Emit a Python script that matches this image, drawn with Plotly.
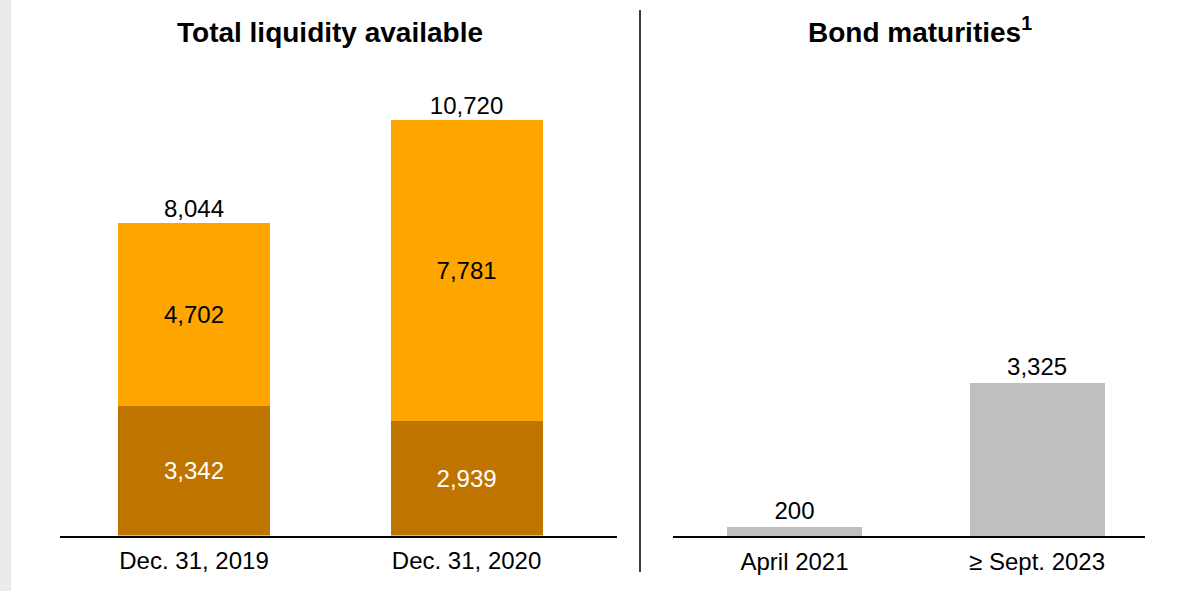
import plotly.graph_objects as go

W, H = 1178, 591

# ---- data ----
liq_categories = ["Dec. 31, 2019", "Dec. 31, 2020"]
liq_bottom = [3342, 2939]
liq_top = [4702, 7781]
liq_total = [8044, 10720]

bond_categories = ["April 2021", "≥ Sept. 2023"]
bond_values = [200, 3325]

titles = ["Total liquidity available", "Bond maturities<sup>1</sup>"]

FONT = "Liberation Sans, Arial, sans-serif"
ORANGE = "#FFA500"
DARK = "#C07400"
GRAY = "#BFBFBF"
FS = 24

def px(x):
    return x / W

def py(y):
    return (H - y) / H

fig = go.Figure()

fmt = lambda v: f"{v:,}"

fig.add_trace(go.Bar(
    x=liq_categories, y=liq_bottom, marker=dict(color=DARK, line=dict(width=0)),
    text=[fmt(v) for v in liq_bottom], textposition="inside", insidetextanchor="middle",
    textangle=0, textfont=dict(color="white", size=FS, family=FONT),
    width=0.558, xaxis="x", yaxis="y", showlegend=False, hoverinfo="skip"))
fig.add_trace(go.Bar(
    x=liq_categories, y=liq_top, marker=dict(color=ORANGE, line=dict(width=0)),
    text=[fmt(v) for v in liq_top], textposition="inside", insidetextanchor="middle",
    textangle=0, textfont=dict(color="black", size=FS, family=FONT),
    width=0.558, xaxis="x", yaxis="y", showlegend=False, hoverinfo="skip"))
fig.add_trace(go.Scatter(
    x=liq_categories, y=liq_total, mode="text", text=[fmt(v) for v in liq_total],
    textposition="top center", textfont=dict(color="black", size=FS, family=FONT),
    xaxis="x", yaxis="y", showlegend=False, hoverinfo="skip"))

fig.add_trace(go.Bar(
    x=bond_categories, y=bond_values, marker=dict(color=GRAY, line=dict(width=0)),
    text=[fmt(v) for v in bond_values], textposition="outside",
    textangle=0, textfont=dict(color="black", size=FS, family=FONT), cliponaxis=False,
    width=0.557, xaxis="x2", yaxis="y2", showlegend=False, hoverinfo="skip"))

axis_common = dict(showgrid=False, zeroline=False, ticks="")

fig.update_layout(
    width=W, height=H,
    margin=dict(l=0, r=0, t=0, b=0),
    paper_bgcolor="white", plot_bgcolor="rgba(0,0,0,0)",
    barmode="stack",
    font=dict(family=FONT, size=FS, color="black"),
    xaxis=dict(domain=[px(60), px(617)], range=[-0.4917, 1.552], type="category",
               anchor="y", showline=True, linecolor="black", linewidth=1.5,
               ticklabelstandoff=3,
               tickfont=dict(size=FS, color="black"), **axis_common),
    yaxis=dict(domain=[py(535.5), py(60)], range=[0, 475.5 / 0.0388],
               visible=False, **axis_common),
    xaxis2=dict(domain=[px(673), px(1145)], range=[-0.501, 1.445], type="category",
                anchor="y2", showline=True, linecolor="black", linewidth=1.5,
                ticklabelstandoff=3,
                tickfont=dict(size=FS, color="black"), **axis_common),
    yaxis2=dict(domain=[py(536), py(60)], range=[0, 476 / 0.046],
                visible=False, **axis_common),
)

fig.add_shape(type="rect", xref="paper", yref="paper", x0=0, x1=px(11), y0=0, y1=1,
              fillcolor="#EBEBEB", line=dict(width=0), layer="below")
fig.add_shape(type="line", xref="paper", yref="paper", x0=px(640), x1=px(640),
              y0=py(10), y1=py(572), line=dict(color="black", width=1.5))

fig.add_annotation(text="<b>" + titles[0] + "</b>", xref="paper", yref="paper",
                   x=px(330), y=py(33), showarrow=False, xanchor="center", yanchor="middle",
                   font=dict(size=28, color="black", family=FONT))
fig.add_annotation(text="<b>" + titles[1] + "</b>", xref="paper", yref="paper",
                   x=px(920), y=py(30), showarrow=False, xanchor="center", yanchor="middle",
                   font=dict(size=28, color="black", family=FONT))

fig.write_html("out.html", config={"displayModeBar": False},
               post_script="document.body.style.margin='0';")
